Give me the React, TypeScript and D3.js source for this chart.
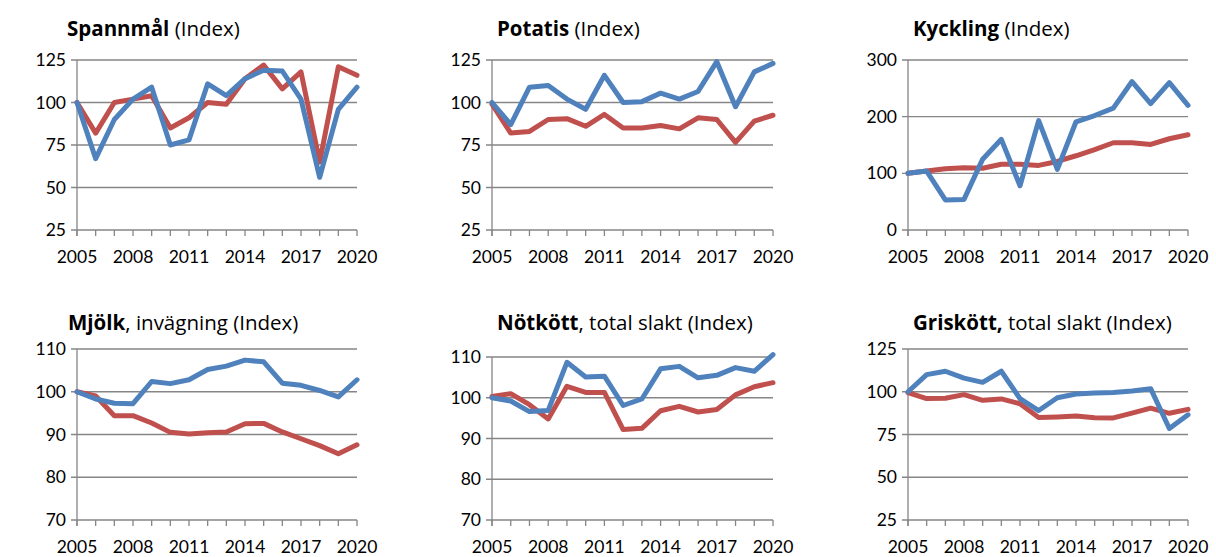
import React from "react";
import * as d3 from "d3";

const years = [2005, 2006, 2007, 2008, 2009, 2010, 2011, 2012, 2013, 2014, 2015, 2016, 2017, 2018, 2019, 2020];
const xTickLabels = [2005, 2008, 2011, 2014, 2017, 2020];

const spannmalRed = [100, 82, 100, 102, 104, 85, 91, 100, 99, 114, 122, 108, 118, 65, 121, 116];
const spannmalBlue = [100, 67, 90, 102, 109, 75, 78, 111, 104, 114, 119, 118.5, 102, 56, 96, 109];
const spannmalTicks = [25, 50, 75, 100, 125];

const potatisRed = [99, 82, 83, 90, 90.5, 86, 93, 85, 85, 86.5, 84.5, 91, 90, 76.5, 89, 92.5];
const potatisBlue = [100, 87, 109, 110, 102, 96, 116, 100, 100.5, 105.5, 102, 106.5, 124, 97.5, 118, 123];
const potatisTicks = [25, 50, 75, 100, 125];

const kycklingRed = [100, 104, 108, 110, 109, 116, 116, 114, 121, 131, 142, 154, 154, 151, 161, 168];
const kycklingBlue = [100, 104, 53, 54, 125, 160, 78, 193, 107, 191, 202, 215, 262, 223, 260, 220];
const kycklingTicks = [0, 100, 200, 300];

const mjolkRed = [100, 99, 94.4, 94.4, 92.7, 90.5, 90.1, 90.4, 90.6, 92.5, 92.6, 90.6, 89, 87.4, 85.5, 87.6];
const mjolkBlue = [100, 98.3, 97.3, 97.2, 102.4, 101.9, 102.8, 105.2, 106, 107.4, 107, 102, 101.5, 100.3, 98.8, 102.8];
const mjolkTicks = [70, 80, 90, 100, 110];

const notkottRed = [100.3, 101, 98.3, 94.8, 102.8, 101.3, 101.3, 92.2, 92.5, 96.8, 97.9, 96.5, 97.1, 100.7, 102.7, 103.7];
const notkottBlue = [100, 99.2, 96.6, 96.9, 108.7, 105.1, 105.3, 98.1, 99.7, 107.1, 107.7, 104.9, 105.5, 107.4, 106.5, 110.6];
const notkottTicks = [70, 80, 90, 100, 110];

const griskottRed = [99.5, 96, 96.2, 98.3, 95, 95.8, 93, 85, 85.3, 85.8, 84.8, 84.7, 87.5, 90.4, 87.4, 89.7];
const griskottBlue = [100, 110, 112, 108, 105.5, 112, 96, 89, 96.5, 98.7, 99.3, 99.6, 100.5, 101.8, 78.5, 86.5];
const griskottTicks = [25, 50, 75, 100, 125];

const RED = "#C0504D";
const BLUE = "#4F81BD";
const GRID = "#868686";
const FONT = "Lato, 'Open Sans', sans-serif";
const TITLE_FONT = "'Open Sans', Lato, sans-serif";

type Panel = {
  bold: string;
  rest: string;
  red: number[];
  blue: number[];
  ticks: number[];
  left: number;
  right: number;
  top: number;
  bottom: number;
  titleX: number;
  titleY: number;
};

const panels: Panel[] = [
  { bold: "Spannmål", rest: " (Index)", red: spannmalRed, blue: spannmalBlue, ticks: spannmalTicks, left: 77, right: 357, top: 60, bottom: 230, titleX: 67, titleY: 36 },
  { bold: "Potatis", rest: " (Index)", red: potatisRed, blue: potatisBlue, ticks: potatisTicks, left: 492, right: 773, top: 60, bottom: 230, titleX: 497, titleY: 36 },
  { bold: "Kyckling", rest: " (Index)", red: kycklingRed, blue: kycklingBlue, ticks: kycklingTicks, left: 908, right: 1188, top: 60, bottom: 230, titleX: 913, titleY: 36 },
  { bold: "Mjölk", rest: ", invägning (Index)", red: mjolkRed, blue: mjolkBlue, ticks: mjolkTicks, left: 77, right: 357, top: 349, bottom: 520, titleX: 68, titleY: 330 },
  { bold: "Nötkött", rest: ", total slakt (Index)", red: notkottRed, blue: notkottBlue, ticks: notkottTicks, left: 492, right: 773, top: 357, bottom: 520, titleX: 497, titleY: 330 },
  { bold: "Griskött,", rest: " total slakt (Index)", red: griskottRed, blue: griskottBlue, ticks: griskottTicks, left: 908, right: 1188, top: 349, bottom: 520, titleX: 913, titleY: 330 },
];

const LinePanel: React.FC<{ p: Panel }> = ({ p }) => {
  const x = d3.scaleLinear().domain([years[0], years[years.length - 1]]).range([p.left, p.right]);
  const y = d3
    .scaleLinear()
    .domain([p.ticks[0], p.ticks[p.ticks.length - 1]])
    .range([p.bottom, p.top]);
  const line = d3
    .line<number>()
    .x((_, i) => x(years[i]))
    .y((d) => y(d));

  return (
    <g>
      <text x={p.titleX} y={p.titleY} fontFamily={TITLE_FONT} fontSize={20.5} fill="#000">
        <tspan fontWeight="bold">{p.bold}</tspan>
        <tspan>{p.rest}</tspan>
      </text>
      {p.ticks.map((t) => (
        <g key={t}>
          <line x1={p.left - 6} x2={p.right} y1={y(t)} y2={y(t)} stroke={GRID} strokeWidth={1.3} />
          <text x={p.left - 11} y={y(t) + 6} textAnchor="end" fontFamily={FONT} fontSize={17.5} fill="#000">
            {t}
          </text>
        </g>
      ))}
      <line x1={p.left} x2={p.left} y1={p.top} y2={p.bottom + 6} stroke={GRID} strokeWidth={1.3} />
      {years.map((yr) => (
        <line key={yr} x1={x(yr)} x2={x(yr)} y1={p.bottom} y2={p.bottom + 6} stroke={GRID} strokeWidth={1.3} />
      ))}
      {xTickLabels.map((yr) => (
        <text key={yr} x={x(yr)} y={p.bottom + 33} textAnchor="middle" fontFamily={FONT} fontSize={17.5} fill="#000">
          {yr}
        </text>
      ))}
      <path d={line(p.red) || ""} fill="none" stroke={RED} strokeWidth={5} strokeLinejoin="round" strokeLinecap="round" />
      <path d={line(p.blue) || ""} fill="none" stroke={BLUE} strokeWidth={5} strokeLinejoin="round" strokeLinecap="round" />
    </g>
  );
};

export default function App() {
  return (
    <div style={{ position: "absolute", left: 0, top: 0, background: "#fff" }}>
      <svg width={1216} height={557} style={{ display: "block" }}>
        <rect width={1216} height={557} fill="#fff" />
        {panels.map((p) => (
          <LinePanel key={p.bold} p={p} />
        ))}
      </svg>
    </div>
  );
}
